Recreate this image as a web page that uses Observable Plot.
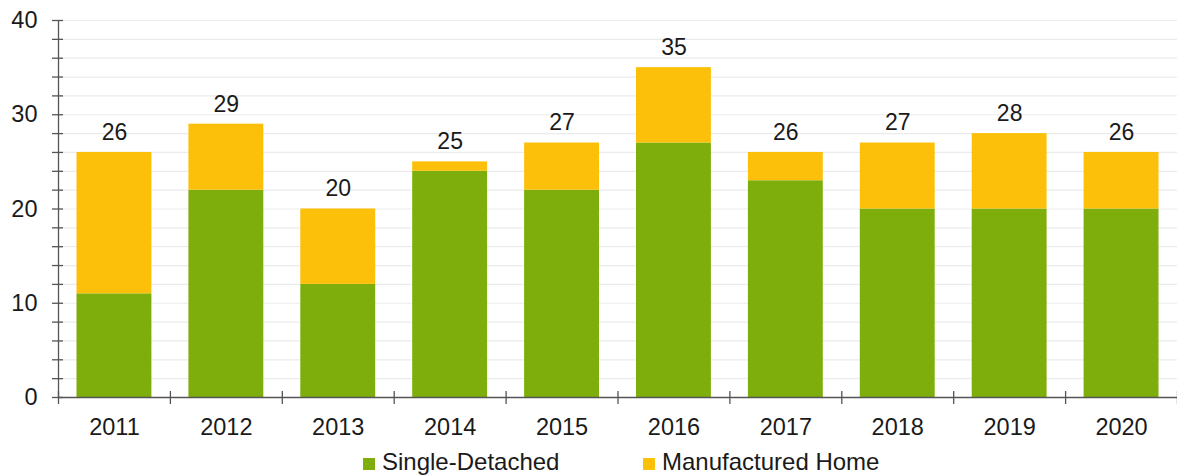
<!DOCTYPE html>
<html><head><meta charset="utf-8">
<script src="https://cdn.jsdelivr.net/npm/d3@7"></script>
<script src="https://cdn.jsdelivr.net/npm/@observablehq/plot@0.6"></script>
<style>
body{margin:0;background:#fff;font-family:"Liberation Sans",Arial,sans-serif;}
#chart svg{display:block;}
#legend{position:relative;height:30px;width:1177px;font-size:24px;color:#1a1a1a;}
.item{position:absolute;top:3px;display:flex;align-items:center;line-height:28px;white-space:nowrap;}
.sw{width:12px;height:12px;margin-right:7px;position:relative;top:2px;}
</style></head><body><div id="chart"></div><div id="legend"></div>
<script>
const years = [2011, 2012, 2013, 2014, 2015, 2016, 2017, 2018, 2019, 2020];
const singleDetached = [11, 22, 12, 24, 22, 27, 23, 20, 20, 20];
const manufacturedHome = [15, 7, 8, 1, 5, 8, 3, 7, 8, 6];
const seriesNames = ["Single-Detached", "Manufactured Home"];
const seriesColors = ["#7eae0b", "#fdc00a"];
const yTickLabels = [0, 10, 20, 30, 40];
const yMinorTicks = [0, 2, 4, 6, 8, 10, 12, 14, 16, 18, 20, 22, 24, 26, 28, 30, 32, 34, 36, 38, 40];
const xBoundaries = [2010.5, 2011.5, 2012.5, 2013.5, 2014.5, 2015.5, 2016.5, 2017.5, 2018.5, 2019.5, 2020.5];

const rows = [];
const totals = [];
years.forEach((yr, i) => {
  const a = singleDetached[i], b = manufacturedHome[i];
  rows.push({year: yr, series: seriesNames[0], y1: 0, y2: a});
  rows.push({year: yr, series: seriesNames[1], y1: a, y2: a + b});
  totals.push({year: yr, total: a + b});
});

const font = "Liberation Sans, Arial, sans-serif";
const chart = Plot.plot({
  width: 1177,
  height: 445,
  marginLeft: 58,
  marginRight: 0,
  marginTop: 20,
  marginBottom: 48,
  style: {fontFamily: font, fontSize: "23px", color: "#1a1a1a", background: "#fff"},
  x: {type: "linear", domain: [2010.5, 2020.5], axis: null},
  y: {domain: [0, 40], axis: null},
  color: {domain: seriesNames, range: seriesColors},
  marks: [
    Plot.ruleY(yMinorTicks.filter(d => d > 0), {stroke: "#ebebeb", strokeWidth: 1.2}),
    Plot.rect(rows, {x1: d => d.year - 0.5, x2: d => d.year + 0.5, y1: "y1", y2: "y2", fill: "series", insetLeft: 18.5, insetRight: 18.5}),
    Plot.text(totals, {x: "year", y: "total", text: d => String(d.total), dy: -20, fontSize: 23, fill: "#1a1a1a"}),
    Plot.ruleY([0], {stroke: "#555", strokeWidth: 1.3}),
    Plot.ruleX([2010.5], {stroke: "#555", strokeWidth: 1.3}),
    Plot.axisY(yMinorTicks, {tickSize: 11, dx: 5, fill: "none", stroke: "#555", strokeWidth: 1.3, label: null}),
    Plot.axisY(yTickLabels, {tickSize: 0, tickPadding: 21, fontSize: 23.5, fill: "#1a1a1a", label: null}),
    Plot.axisX(xBoundaries, {tickSize: 13, dy: -6, fill: "none", stroke: "#555", strokeWidth: 1.3, label: null}),
    Plot.axisX(years, {tickSize: 0, tickPadding: 21, fontSize: 23.5, fill: "#1a1a1a", tickFormat: d => String(d), label: null})
  ]
});
document.getElementById("chart").appendChild(chart);

const legend = document.getElementById("legend");
const legendLeft = [363, 643];
seriesNames.forEach((name, i) => {
  const it = document.createElement("div");
  it.className = "item";
  it.style.left = legendLeft[i] + "px";
  const sw = document.createElement("span");
  sw.className = "sw";
  sw.style.background = seriesColors[i];
  const tx = document.createElement("span");
  tx.textContent = name;
  it.appendChild(sw);
  it.appendChild(tx);
  legend.appendChild(it);
});
</script></body></html>
